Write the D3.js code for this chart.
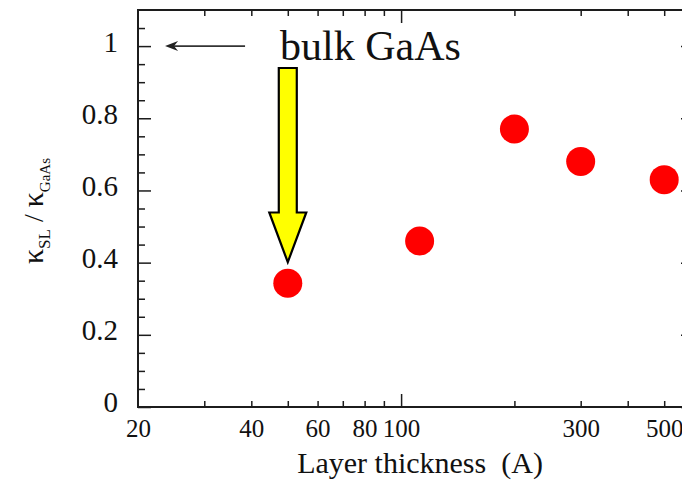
<!DOCTYPE html>
<html>
<head>
<meta charset="utf-8">
<script src="https://cdn.jsdelivr.net/npm/d3@7/dist/d3.min.js"></script>
<style>
  html, body { margin: 0; padding: 0; background: #ffffff; }
  svg { display: block; }
  text { font-family: "Liberation Serif", "Times New Roman", Times, serif; fill: #111; }
</style>
</head>
<body>
<svg id="chart" width="682" height="480"></svg>
<script>
// Layer thickness (Å) and normalised thermal conductivity of the superlattice
const thickness = [50, 112, 200, 300, 500];
const kappaRatio = [0.343, 0.46, 0.77, 0.68, 0.63];

// Axis ticks
const xLabelTicks = [20, 40, 60, 80, 100, 300, 500];
const xMajorTicks = [100];
const xMinorTicks = [30, 40, 50, 60, 70, 80, 90, 200, 300, 400, 500, 600];
const yLabelTicks = [0, 0.2, 0.4, 0.6, 0.8, 1];
const yMinorTicks = [0.05, 0.1, 0.15, 0.25, 0.3, 0.35, 0.45, 0.5, 0.55, 0.65, 0.7, 0.75, 0.85, 0.9, 0.95, 1.05];

// Annotations: bulk GaAs reference arrow (x from, x to, y) and highlighted point
const bulkArrowX = [38.5, 23.6];
const bulkValue = 1;
const highlightIndex = 0;

const svg = d3.select("#chart");
const plotLeft = 138, plotRight = 694, plotTop = 10, plotBottom = 407;

const x = d3.scaleLog().domain([20, 600]).range([plotLeft, plotRight]);
const y = d3.scaleLinear().domain([0, 1.1]).range([plotBottom, plotTop]);

const axisColor = "#1c1c1c";
const serif = "Liberation Serif, Times New Roman, serif";

function styleAxis(g) {
  g.select(".domain").remove();
  g.selectAll(".tick line").attr("stroke", axisColor).attr("stroke-width", 1.5);
}

// Bottom axis: minor, major ticks (pointing inward) and labels
svg.append("g").attr("transform", `translate(0,${plotBottom})`)
  .call(d3.axisBottom(x).tickValues(xMinorTicks).tickSizeInner(-6).tickSizeOuter(0).tickFormat(""))
  .call(styleAxis);
svg.append("g").attr("transform", `translate(0,${plotBottom})`)
  .call(d3.axisBottom(x).tickValues(xMajorTicks).tickSizeInner(-13).tickSizeOuter(0).tickFormat(""))
  .call(styleAxis);
svg.append("g").attr("transform", `translate(0,${plotBottom})`)
  .call(d3.axisBottom(x).tickValues(xLabelTicks).tickSize(0).tickPadding(12).tickFormat(d3.format("d")))
  .call(g => g.select(".domain").remove())
  .call(g => g.selectAll("text").attr("font-size", 25).attr("fill", "#111").attr("font-family", serif));

// Top axis mirror ticks
svg.append("g").attr("transform", `translate(0,${plotTop})`)
  .call(d3.axisTop(x).tickValues(xMinorTicks).tickSizeInner(-6).tickSizeOuter(0).tickFormat(""))
  .call(styleAxis);
svg.append("g").attr("transform", `translate(0,${plotTop})`)
  .call(d3.axisTop(x).tickValues(xMajorTicks).tickSizeInner(-13).tickSizeOuter(0).tickFormat(""))
  .call(styleAxis);

// Left axis
svg.append("g").attr("transform", `translate(${plotLeft},0)`)
  .call(d3.axisLeft(y).tickValues(yMinorTicks).tickSizeInner(-7).tickSizeOuter(0).tickFormat(""))
  .call(styleAxis);
svg.append("g").attr("transform", `translate(${plotLeft},0)`)
  .call(d3.axisLeft(y).tickValues(yLabelTicks).tickSizeInner(-13).tickSizeOuter(0).tickPadding(20)
    .tickFormat(d => String(d)))
  .call(styleAxis)
  .call(g => g.selectAll("text").attr("font-size", 29).attr("dy", "0.17em").attr("fill", "#111")
    .attr("font-family", serif));

// Right axis mirror ticks
svg.append("g").attr("transform", `translate(${plotRight},0)`)
  .call(d3.axisRight(y).tickValues(yMinorTicks).tickSizeInner(-7).tickSizeOuter(0).tickFormat(""))
  .call(styleAxis);
svg.append("g").attr("transform", `translate(${plotRight},0)`)
  .call(d3.axisRight(y).tickValues(yLabelTicks).tickSizeInner(-13).tickSizeOuter(0).tickFormat(""))
  .call(styleAxis);

// Plot frame
svg.append("rect")
  .attr("x", plotLeft).attr("y", plotTop)
  .attr("width", plotRight - plotLeft).attr("height", plotBottom - plotTop)
  .attr("fill", "none").attr("stroke", axisColor).attr("stroke-width", 2);

// Data points
svg.append("g").selectAll("circle")
  .data(thickness.map((t, i) => ({ t, k: kappaRatio[i] })))
  .join("circle")
  .attr("cx", d => x(d.t))
  .attr("cy", d => y(d.k))
  .attr("r", 14.5)
  .attr("fill", "#ff0000");

// Bulk GaAs reference arrow
const by = y(bulkValue);
const bx0 = x(bulkArrowX[0]), bx1 = x(bulkArrowX[1]);
svg.append("line")
  .attr("x1", bx0).attr("y1", by).attr("x2", bx1 + 4).attr("y2", by)
  .attr("stroke", "#333").attr("stroke-width", 1.6);
svg.append("path")
  .attr("d", `M${bx1},${by} L${bx1 + 13},${by - 5} L${bx1 + 9},${by} L${bx1 + 13},${by + 5} Z`)
  .attr("fill", "#222");

svg.append("text")
  .attr("x", 280).attr("y", 60)
  .attr("font-size", 42)
  .text("bulk GaAs");

// Yellow arrow pointing at the thinnest layer
const hx = x(thickness[highlightIndex]);
const tipY = y(kappaRatio[highlightIndex]) - 21;
const shaftTop = 68, shoulderY = 212.5, halfShaft = 9, halfHead = 18.5;
svg.append("path")
  .attr("d", [
    `M${hx - halfShaft},${shaftTop}`,
    `L${hx + halfShaft},${shaftTop}`,
    `L${hx + halfShaft},${shoulderY}`,
    `L${hx + halfHead},${shoulderY}`,
    `L${hx},${tipY}`,
    `L${hx - halfHead},${shoulderY}`,
    `L${hx - halfShaft},${shoulderY}`,
    "Z"
  ].join(" "))
  .attr("fill", "#ffff00")
  .attr("stroke", "#000")
  .attr("stroke-width", 2.2)
  .attr("stroke-linejoin", "miter");

// Axis titles
svg.append("text")
  .attr("x", 420).attr("y", 473)
  .attr("text-anchor", "middle")
  .attr("font-size", 30)
  .attr("xml:space", "preserve")
  .text("Layer thickness  (A)");

const yTitle = svg.append("text")
  .attr("transform", "translate(43,211) rotate(-90)")
  .attr("text-anchor", "middle");
yTitle.append("tspan").attr("font-size", 30).text("κ");
yTitle.append("tspan").attr("font-size", 17).attr("dy", 7).text("SL");
yTitle.append("tspan").attr("font-size", 28).attr("dy", -7).text(" / ");
yTitle.append("tspan").attr("font-size", 30).text("κ");
yTitle.append("tspan").attr("font-size", 15).attr("dy", 7).text("GaAs");
</script>
</body>
</html>
